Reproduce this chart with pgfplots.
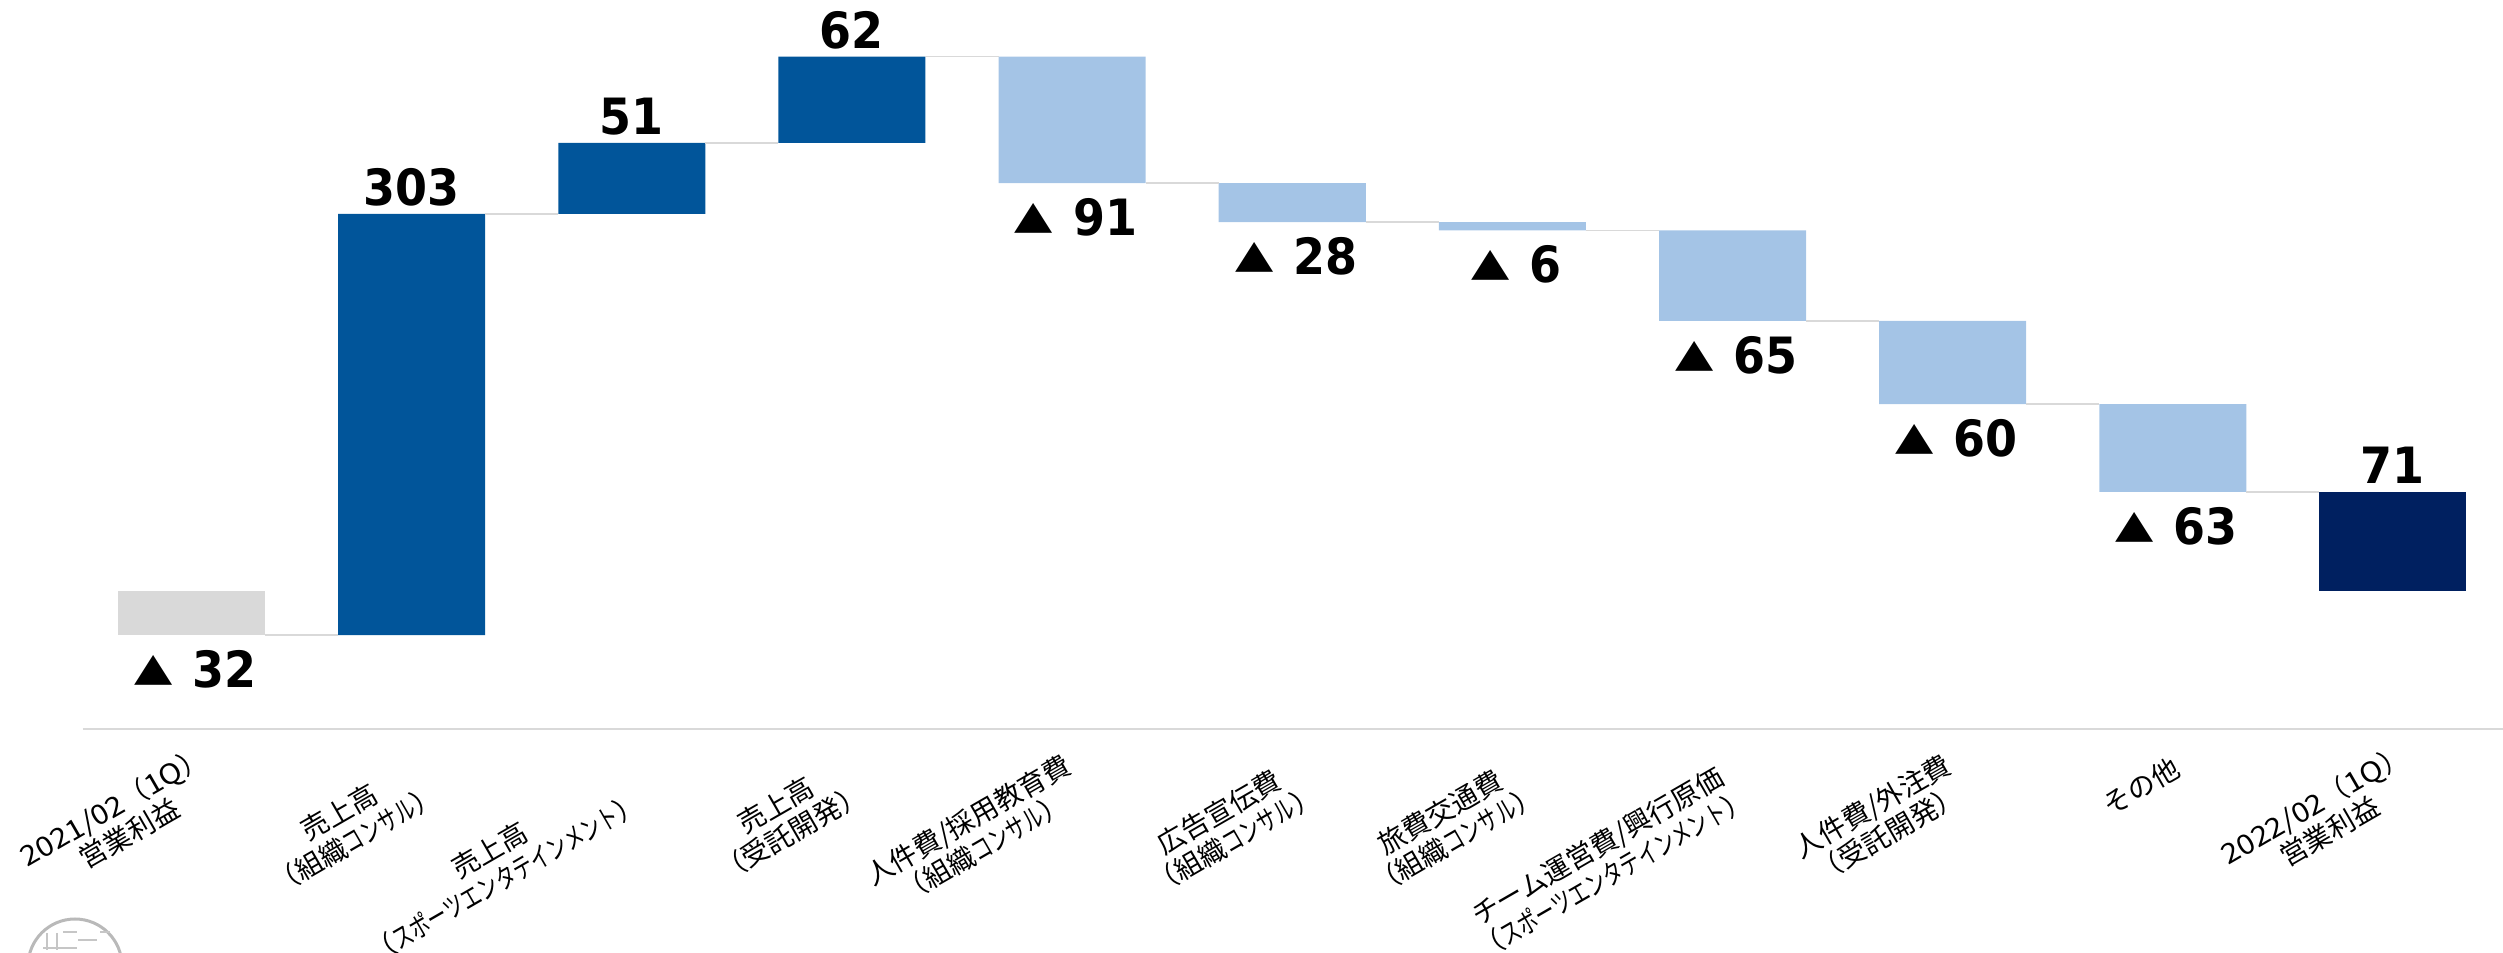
\documentclass[border=0pt]{standalone}
\usepackage{graphicx}
\usepackage{fontspec}
\usepackage{pgfplots}
\usepackage{pgfplotstable}
\pgfplotsset{compat=1.18}
\setmainfont{Noto Sans CJK JP}
\newfontfamily\numfont[FakeStretch=0.92]{DejaVu Sans Bold}
\definecolor{upblue}{HTML}{01559A}
\definecolor{downblue}{HTML}{A4C4E6}
\definecolor{startgrey}{HTML}{D9D9D9}
\definecolor{endnavy}{HTML}{002060}
\newlength\px
\setlength\px{0.4pt}
% tick label: offset from the tick in picture pixels, rotated 30 deg
\newcommand\lb[3]{\makebox[0pt]{\hspace*{#1\px}\hspace*{#1\px}\raisebox{#2\px}[0pt][0pt]{$\vcenter{\hbox{\rotatebox[origin=c]{30}{\setlength\tabcolsep{0pt}\renewcommand\arraystretch{0.8}\begin{tabular}{c}#3\end{tabular}}}}$}}}
\newcommand\kn[1]{\scalebox{0.72}[1]{#1}}
\newcommand\dg[1]{\scalebox{1.12}[1]{#1}}
\newcommand\tri{\raisebox{2.9pt}{\scalebox{1.08}[0.78]{▲}}\hspace{0.4em}}
\pgfplotstableread{
x base grey up down navy
0 0 -32 0 0 0
1 -32 0 303 0 0
2 271 0 51 0 0
3 322 0 62 0 0
4 293 0 0 91 0
5 265 0 0 28 0
6 259 0 0 6 0
7 194 0 0 65 0
8 134 0 0 60 0
9 71 0 0 63 0
10 0 0 0 0 71
}\bars
\pgfplotsset{wf/.style={
    at={(83\px,223\px)},
    anchor=south west,
    scale only axis,
    width=2420\px,
    height=729\px,
    xmin=-0.493, xmax=10.5,
    ymin=-99.6, ymax=424.8,
    clip=false,
}}
\begin{document}
\begin{tikzpicture}
\path[use as bounding box] (0,0) rectangle (2503\px,952\px);
% seal at the lower left, cut by the page edge
\draw[gray!55,line width=1.2pt] (75\px,-14\px) circle (47\px);
\draw[gray!45,line width=1pt]
  (47\px,19\px) -- (47\px,2\px) (57\px,19\px) -- (57\px,2\px)
  (63\px,20\px) -- (77\px,20\px) (78\px,12\px) -- (97\px,12\px)
  (100\px,20\px) -- (110\px,20\px) (43\px,4\px) -- (77\px,4\px);
\begin{axis}[wf,
    ybar stacked,
    stack negative=on previous,
    bar width=147\px,
    hide y axis,
    axis x line*=bottom,
    axis line style={draw=startgrey,line width=0.8pt,-},
    major tick length=0pt,
    xtick={0,...,10},
    xticklabel style={anchor=center,inner sep=0pt,font=\fontsize{11}{13}\selectfont},
    xticklabels={
      {\lb{-69}{-100}{\dg{2021/02}（\dg{1Q}）\\営業利益}},
      {\lb{-63}{-106}{売上高\\（組織\kn{コンサル}）}},
      {\lb{-133}{-144}{売上高\\（\kn{スポーツエンタテインメント}）}},
      {\lb{-67}{-99}{売上高\\（受託開発）}},
      {\lb{-95}{-114}{人件費/採用教育費\\（組織\kn{コンサル}）}},
      {\lb{-64}{-106}{広告宣伝費\\（組織\kn{コンサル}）}},
      {\lb{-63}{-106}{旅費交通費\\（組織\kn{コンサル}）}},
      {\lb{-126}{-140}{チーム運営費/興行原価\\（\kn{スポーツエンタテインメント}）}},
      {\lb{-71}{-100}{人件費/外注費\\（受託開発）}},
      {\lb{-30}{-67}{その他}},
      {\lb{-70}{-98}{\dg{2022/02}（\dg{1Q}）\\営業利益}}
    },
]
\addplot[draw=none,fill=none] table[x=x,y=base] {\bars};
\addplot[draw=none,fill=startgrey] table[x=x,y=grey] {\bars};
\addplot[draw=none,fill=upblue] table[x=x,y=up] {\bars};
\addplot[draw=none,fill=downblue] table[x=x,y=down] {\bars};
\addplot[draw=none,fill=endnavy] table[x=x,y=navy] {\bars};
\end{axis}
\begin{axis}[wf,
    hide axis,
    unbounded coords=jump,
]
% connectors between bars
\addplot[startgrey,line width=0.6pt] coordinates {
  (0.334,-32) (0.666,-32) (0.7,nan)
  (1.334,271) (1.666,271) (1.7,nan)
  (2.334,322) (2.666,322) (2.7,nan)
  (3.334,384) (3.666,384) (3.7,nan)
  (4.334,293) (4.666,293) (4.7,nan)
  (5.334,265) (5.666,265) (5.7,nan)
  (6.334,259) (6.666,259) (6.7,nan)
  (7.334,194) (7.666,194) (7.7,nan)
  (8.334,134) (8.666,134) (8.7,nan)
  (9.334,71) (9.666,71)
};
% values above the bars
\addplot[draw=none,mark=none,point meta=explicit symbolic,
    nodes near coords,
    every node near coord/.style={anchor=base,inner sep=0pt,yshift=3.2pt,font=\numfont\fontsize{20}{24}\selectfont,text=black}]
  coordinates {
  (1,271) [303]
  (2,322) [51]
  (3,384) [62]
  (10,71) [71]
};
% values below the bars
\addplot[draw=none,mark=none,point meta=explicit symbolic,
    nodes near coords,
    every node near coord/.style={anchor=base,inner sep=0pt,xshift=1.6pt,yshift=-21pt,font=\numfont\fontsize{20}{24}\selectfont,text=black}]
  coordinates {
  (0,-32) [\tri 32]
  (4,293) [\tri 91]
  (5,265) [\tri 28]
  (6,259) [\tri 6]
  (7,194) [\tri 65]
  (8,134) [\tri 60]
  (9,71) [\tri 63]
};
\end{axis}
\end{tikzpicture}
\end{document}
